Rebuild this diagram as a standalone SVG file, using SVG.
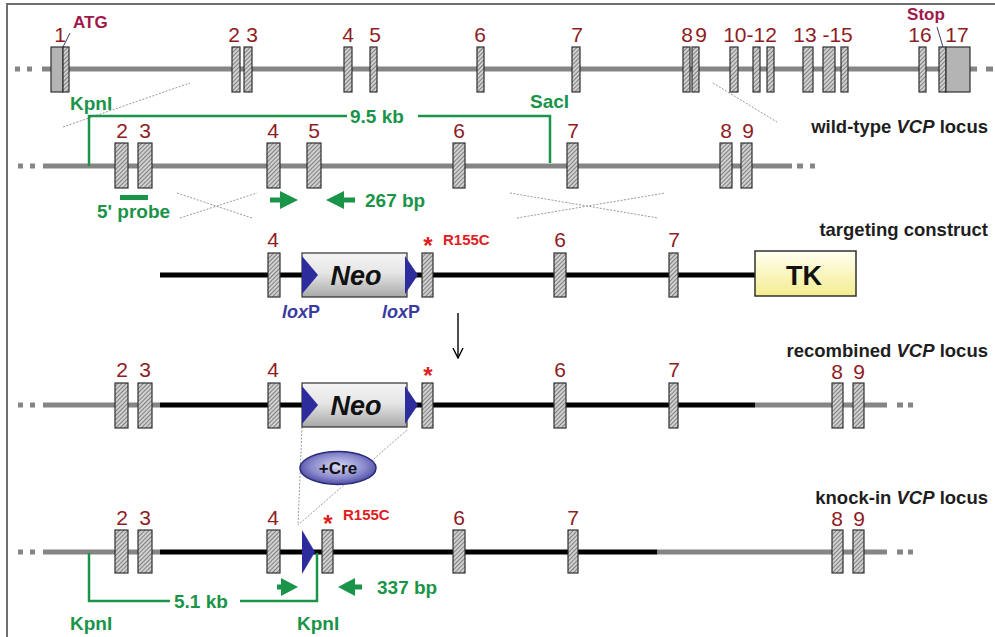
<svg xmlns="http://www.w3.org/2000/svg" width="995" height="637" viewBox="0 0 995 637">
<defs>
<pattern id="hatch" width="3" height="3" patternUnits="userSpaceOnUse" patternTransform="rotate(45)">
<rect width="3" height="3" fill="#d0d0d0"/>
<line x1="0" y1="0" x2="0" y2="3" stroke="#3e3e3e" stroke-width="1.1"/>
</pattern>
<linearGradient id="neoG" x1="0" y1="0" x2="0" y2="1">
<stop offset="0" stop-color="#f4f4f4"/><stop offset="0.45" stop-color="#e6e6e6"/><stop offset="1" stop-color="#a8a8a8"/>
</linearGradient>
<linearGradient id="tkG" x1="0" y1="0" x2="0" y2="1">
<stop offset="0" stop-color="#fffff0"/><stop offset="1" stop-color="#f4ec90"/>
</linearGradient>
<radialGradient id="creG" cx="0.5" cy="0.45" r="0.6">
<stop offset="0" stop-color="#d8d8f4"/><stop offset="0.6" stop-color="#8888cc"/><stop offset="1" stop-color="#3c3c96"/>
</radialGradient>
<marker id="arr" viewBox="0 0 12 12" refX="11" refY="6" markerWidth="12" markerHeight="12" markerUnits="userSpaceOnUse" orient="auto">
<path d="M1,1 L11,6 L1,11" fill="none" stroke="#000" stroke-width="1.4"/>
</marker>
</defs>
<style>
.gl{stroke:#858585;stroke-width:5;fill:none}
.bl{stroke:#000;stroke-width:5;fill:none}
.ex{fill:url(#hatch);stroke:#303030;stroke-width:1.2}
.num{font-family:"Liberation Sans",Arial,sans-serif;font-size:21px;fill:#8e1c24;text-anchor:middle}
.grt{font-family:"Liberation Sans",Arial,sans-serif;font-size:19px;font-weight:bold;fill:#1a9448}
.lab{font-family:"Liberation Sans",Arial,sans-serif;font-size:18.5px;font-weight:bold;fill:#1e1e1e;text-anchor:end}
.mg{font-family:"Liberation Sans",Arial,sans-serif;font-size:17px;font-weight:bold;fill:#a0184a}
.red{font-family:"Liberation Sans",Arial,sans-serif;font-weight:bold;fill:#e0201e}
.lox{font-family:"Liberation Sans",Arial,sans-serif;font-size:18px;font-weight:bold;fill:#3a3aa0}
.neo{font-family:"Liberation Sans",Arial,sans-serif;font-size:27px;font-weight:bold;font-style:italic;fill:#111;text-anchor:middle}
.grl{stroke:#1a9448;stroke-width:2.5;fill:none}
.gra{fill:#1a9448}
.dot{stroke:#9a9a9a;stroke-width:1;stroke-dasharray:2 1.5;fill:none}
.lp{fill:#2c2c9c}
</style>
<rect x="7" y="4" width="1000" height="650" fill="none" stroke="#6e6e6e" stroke-width="2"/>

<g id="connectors">
<line class="dot" x1="63" y1="127" x2="190" y2="83"/>
<line class="dot" x1="713" y1="83" x2="777" y2="122"/>
<line class="dot" x1="177" y1="193" x2="252" y2="218"/>
<line class="dot" x1="180" y1="218" x2="257" y2="193"/>
<line class="dot" x1="510" y1="193" x2="658" y2="218"/>
<line class="dot" x1="517" y1="218" x2="665" y2="193"/>
<line class="dot" x1="302" y1="427" x2="298" y2="525"/>
<line class="dot" x1="407" y1="430" x2="298" y2="525"/>
<line x1="458" y1="313" x2="458" y2="358" stroke="#000" stroke-width="1.4" marker-end="url(#arr)"/>
</g>

<g id="row1">
<path class="gl" d="M15,69H20M27,69H32M42,69H977M986,69H993"/>
<rect x="51" y="47" width="12" height="45" fill="#b4b4b4" stroke="#303030" stroke-width="1.2"/>
<rect class="ex" x="63" y="47" width="6" height="45"/>
<rect class="ex" x="232" y="47" width="8" height="45"/>
<rect class="ex" x="244" y="47" width="8" height="45"/>
<rect class="ex" x="344" y="47" width="8" height="45"/>
<rect class="ex" x="370" y="47" width="7" height="45"/>
<rect class="ex" x="477" y="47" width="7" height="45"/>
<rect class="ex" x="572" y="47" width="8" height="45"/>
<rect class="ex" x="683" y="47" width="7" height="45"/>
<rect class="ex" x="692" y="47" width="7" height="45"/>
<rect class="ex" x="730" y="47" width="8" height="45"/>
<rect class="ex" x="753" y="47" width="7" height="45"/>
<rect class="ex" x="767" y="47" width="7" height="45"/>
<rect class="ex" x="803" y="47" width="10" height="45"/>
<rect class="ex" x="823" y="47" width="12" height="45"/>
<rect class="ex" x="841" y="47" width="7" height="45"/>
<rect class="ex" x="919" y="47" width="7" height="45"/>
<rect class="ex" x="939" y="47" width="7" height="45"/>
<rect x="946" y="47" width="24" height="45" fill="#b4b4b4" stroke="#303030" stroke-width="1.2"/>
<line x1="63" y1="47" x2="70" y2="33" stroke="#3a3a6a" stroke-width="1"/>
<line x1="937" y1="27" x2="943" y2="47" stroke="#3a3a6a" stroke-width="1"/>
<text class="num" x="60" y="42">1</text>
<text class="mg" x="73" y="28">ATG</text>
<text class="num" x="234" y="42">2</text>
<text class="num" x="252" y="42">3</text>
<text class="num" x="348" y="42">4</text>
<text class="num" x="375" y="42">5</text>
<text class="num" x="480" y="42">6</text>
<text class="num" x="577" y="42">7</text>
<text class="num" x="687" y="42">8</text>
<text class="num" x="701" y="42">9</text>
<text class="num" x="750" y="42">10-12</text>
<text class="num" x="823" y="42">13 -15</text>
<text class="num" x="920" y="42">16</text>
<text class="num" x="957" y="42">17</text>
<text class="mg" x="926" y="20" font-size="16" text-anchor="middle">Stop</text>
</g>

<g id="row2">
<path class="gl" d="M18,166H23M30,166H35M43,166H792M797,166H803M810,166H815"/>
<rect class="ex" x="115" y="143" width="13" height="45"/>
<rect class="ex" x="138" y="143" width="14" height="45"/>
<rect class="ex" x="267" y="143" width="13" height="45"/>
<rect class="ex" x="307" y="143" width="14" height="45"/>
<rect class="ex" x="453" y="143" width="12" height="45"/>
<rect class="ex" x="567" y="143" width="11" height="45"/>
<rect class="ex" x="720" y="143" width="12" height="45"/>
<rect class="ex" x="741" y="143" width="11" height="45"/>
<text class="num" x="122" y="138">2</text>
<text class="num" x="145" y="138">3</text>
<text class="num" x="273" y="138">4</text>
<text class="num" x="314" y="138">5</text>
<text class="num" x="459" y="138">6</text>
<text class="num" x="573" y="138">7</text>
<text class="num" x="726" y="138">8</text>
<text class="num" x="748" y="138">9</text>
<path class="grl" d="M89,166V116H347M418,116H550V163"/>
<text class="grt" x="350" y="123">9.5 kb</text>
<text class="grt" x="70" y="110">KpnI</text>
<text class="grt" x="530" y="108">SacI</text>
<rect class="gra" x="120" y="195" width="28" height="5"/>
<text class="grt" x="97" y="218">5' probe</text>
<path class="gra" d="M270,197.5H280V191L298,200L280,209V202.5H270Z"/>
<path class="gra" d="M355,197.5H344V191L326,200L344,209V202.5H355Z"/>
<text class="grt" x="365" y="207">267 bp</text>
<text class="lab" x="988" y="133">wild-type <tspan font-style="italic">VCP</tspan> locus</text>
</g>

<g id="row3">
<path class="bl" d="M160,275H755"/>
<rect class="ex" x="268" y="253" width="12" height="44"/>
<rect x="302" y="253" width="105" height="44" fill="url(#neoG)" stroke="#303030" stroke-width="1.2"/>
<path class="lp" d="M302,256L318,275L302,294Z"/>
<path class="lp" d="M405,256L418,275L405,294Z"/>
<text class="neo" x="356" y="285">Neo</text>
<rect class="ex" x="422" y="253" width="11" height="44"/>
<rect class="ex" x="554" y="253" width="12" height="44"/>
<rect class="ex" x="669" y="253" width="9" height="44"/>
<rect x="755" y="251" width="101" height="45" fill="url(#tkG)" stroke="#303030" stroke-width="1.5"/>
<text x="804" y="285" font-family="Liberation Sans,Arial,sans-serif" font-size="27" font-weight="bold" fill="#111" text-anchor="middle">TK</text>
<text class="num" x="273" y="247">4</text>
<text class="num" x="560" y="247">6</text>
<text class="num" x="674" y="247">7</text>
<text class="red" x="428" y="254" font-size="24" text-anchor="middle">*</text>
<text class="red" x="443" y="245" font-size="15">R155C</text>
<text class="lox" x="282" y="318"><tspan font-style="italic">lox</tspan>P</text>
<text class="lox" x="382" y="318"><tspan font-style="italic">lox</tspan>P</text>
<text class="lab" x="988" y="236">targeting construct</text>
</g>

<g id="row4">
<path class="gl" d="M18,405H23M30,405H35M43,405H160M755,405H887M897,405H903M908,405H913"/>
<path class="bl" d="M160,405H755"/>
<rect class="ex" x="115" y="383" width="13" height="45"/>
<rect class="ex" x="138" y="383" width="14" height="45"/>
<rect class="ex" x="268" y="383" width="12" height="45"/>
<rect x="302" y="383" width="105" height="44" fill="url(#neoG)" stroke="#303030" stroke-width="1.2"/>
<path class="lp" d="M302,386L318,405L302,424Z"/>
<path class="lp" d="M405,386L418,405L405,424Z"/>
<text class="neo" x="356" y="415">Neo</text>
<rect class="ex" x="422" y="383" width="11" height="45"/>
<rect class="ex" x="554" y="383" width="12" height="45"/>
<rect class="ex" x="669" y="383" width="9" height="45"/>
<rect class="ex" x="832" y="383" width="11" height="45"/>
<rect class="ex" x="853" y="383" width="11" height="45"/>
<text class="num" x="122" y="377">2</text>
<text class="num" x="145" y="377">3</text>
<text class="num" x="273" y="377">4</text>
<text class="num" x="560" y="377">6</text>
<text class="num" x="674" y="377">7</text>
<text class="num" x="837" y="379">8</text>
<text class="num" x="859" y="379">9</text>
<text class="red" x="428" y="384" font-size="24" text-anchor="middle">*</text>
<text class="lab" x="988" y="357">recombined <tspan font-style="italic">VCP</tspan> locus</text>
</g>

<g id="cre">
<ellipse cx="338" cy="468" rx="38" ry="16.5" fill="url(#creG)" stroke="#2a2a7a" stroke-width="1.5"/>
<text x="338" y="474" font-family="Liberation Sans,Arial,sans-serif" font-size="17" font-weight="bold" fill="#111" text-anchor="middle">+Cre</text>
</g>

<g id="row5">
<path class="gl" d="M18,552H23M30,552H35M43,552H160M657,552H887M897,552H903M908,552H913"/>
<path class="bl" d="M160,552H657"/>
<rect class="ex" x="115" y="530" width="13" height="43"/>
<rect class="ex" x="138" y="530" width="14" height="43"/>
<rect class="ex" x="267" y="530" width="13" height="43"/>
<path class="lp" d="M302,530L315,552L302,574Z"/>
<rect class="ex" x="322" y="530" width="11" height="43"/>
<rect class="ex" x="453" y="530" width="12" height="43"/>
<rect class="ex" x="568" y="530" width="10" height="43"/>
<rect class="ex" x="832" y="530" width="11" height="43"/>
<rect class="ex" x="853" y="530" width="11" height="43"/>
<text class="num" x="122" y="525">2</text>
<text class="num" x="145" y="525">3</text>
<text class="num" x="273" y="525">4</text>
<text class="num" x="459" y="525">6</text>
<text class="num" x="573" y="525">7</text>
<text class="num" x="837" y="526">8</text>
<text class="num" x="859" y="526">9</text>
<text class="red" x="328" y="532" font-size="24" text-anchor="middle">*</text>
<text class="red" x="343" y="520" font-size="15">R155C</text>
<path class="grl" d="M89,553V601H170M240,601H317V553"/>
<text class="grt" x="174" y="608">5.1 kb</text>
<path class="gra" d="M277,584.5H281V578L298,587L281,596V589.5H277Z"/>
<path class="gra" d="M362,584.5H355V578L338,587L355,596V589.5H362Z"/>
<text class="grt" x="377" y="594">337 bp</text>
<text class="grt" x="70" y="630">KpnI</text>
<text class="grt" x="297" y="630">KpnI</text>
<text class="lab" x="988" y="504">knock-in <tspan font-style="italic">VCP</tspan> locus</text>
</g>
</svg>
